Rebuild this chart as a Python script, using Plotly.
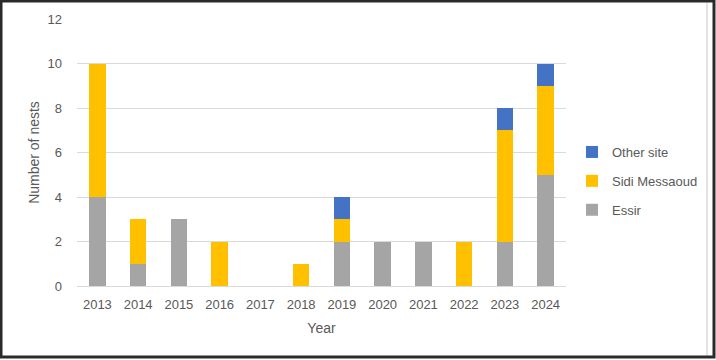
import plotly.graph_objects as go

years = ["2013", "2014", "2015", "2016", "2017", "2018", "2019", "2020", "2021", "2022", "2023", "2024"]
essir = [4, 1, 3, 0, 0, 0, 2, 2, 2, 0, 2, 5]
sidi_messaoud = [6, 2, 0, 2, 0, 1, 1, 0, 0, 2, 5, 4]
other_site = [0, 0, 0, 0, 0, 0, 1, 0, 0, 0, 1, 1]

FONT = "Liberation Sans"
TXT = "#595959"

fig = go.Figure()
fig.add_trace(go.Bar(name="Essir", x=years, y=essir, marker_color="#A5A5A5",
                     marker_line_width=0, legendgroup="a", legendrank=3))
fig.add_trace(go.Bar(name="Sidi Messaoud", x=years, y=sidi_messaoud, marker_color="#FFC000",
                     marker_line_width=0, legendgroup="b", legendrank=2))
fig.add_trace(go.Bar(name="Other site", x=years, y=other_site, marker_color="#4472C4",
                     marker_line_width=0, legendgroup="c", legendrank=1))

L, R, T, B = 77, 150, 19, 74
PW, PH = 716 - L - R, 360 - T - B

def px(xp):
    return (xp - L) / PW

def py(yp):
    return (360 - B - yp) / PH

fig.update_layout(
    barmode="stack",
    bargap=0.6,
    width=716, height=360,
    margin=dict(l=L, r=R, t=T, b=B, autoexpand=False),
    paper_bgcolor="white", plot_bgcolor="white",
    font=dict(family=FONT, size=13, color=TXT),
    legend=dict(x=px(572), y=py(137), xanchor="left", yanchor="top",
                traceorder="grouped", tracegroupgap=9,
                bgcolor="rgba(0,0,0,0)",
                font=dict(family=FONT, size=13, color=TXT),
                itemwidth=30),
    xaxis=dict(title=dict(text="Year", font=dict(size=14, color=TXT), standoff=12),
               automargin=False,
               showgrid=False, showline=True, linecolor="#d9d9d9", linewidth=1,
               ticks="", ticklabelstandoff=6, tickfont=dict(size=13, color=TXT)),
    yaxis=dict(title=dict(text="Number of nests", font=dict(size=14, color=TXT), standoff=4),
               automargin=False,
               range=[0, 12], dtick=2, showgrid=True, gridcolor="#d9d9d9", gridwidth=1,
               zeroline=False, showline=False, ticks="", ticklabelstandoff=14,
               tickfont=dict(size=13, color=TXT)),
)

# outer frame
fig.add_shape(type="line", xref="paper", yref="paper", x0=px(707), x1=px(707), y0=py(356), y1=py(3),
              line=dict(color="#c8c8c8", width=1))
fig.add_shape(type="rect", xref="paper", yref="paper", x0=px(1), x1=px(714), y0=py(357), y1=py(1),
              line=dict(color="#2a2a2a", width=3))

fig.write_html("out.html", config={"displayModeBar": False},
               post_script="document.body.style.margin='0';document.body.style.overflow='hidden';")
